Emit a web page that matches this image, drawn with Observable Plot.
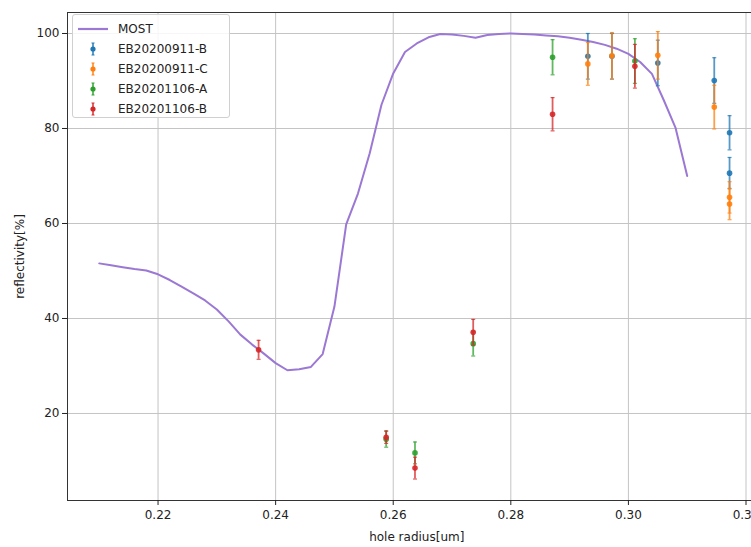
<!DOCTYPE html>
<html><head><meta charset="utf-8">
<script src="https://cdn.jsdelivr.net/npm/d3@7"></script>
<script src="https://cdn.jsdelivr.net/npm/@observablehq/plot@0.6"></script>
<style>
html,body{margin:0;padding:0;background:#fff;overflow:hidden;}
#wrap{position:relative;width:751px;height:547px;overflow:hidden;font-family:"DejaVu Sans",sans-serif;}
#wrap svg{display:block;}
#legend{position:absolute;left:72px;top:14px;width:156px;height:102px;border:1px solid #d0d0d0;border-radius:3px;background:rgba(255,255,255,0.85);font-size:12px;color:#222;}
.lrow{position:absolute;left:0;height:20px;width:156px;}
.lrow span{position:absolute;left:45px;top:3px;line-height:14px;}
.lrow svg{position:absolute;left:0;top:0;}
</style></head><body><div id="wrap"><div id="legend"></div></div>
<script>
// MOST simulation curve
const mostX = [0.210,0.212,0.214,0.216,0.218,0.220,0.222,0.224,0.226,0.228,0.230,0.232,0.234,0.236,0.238,0.240,0.242,0.244,0.246,0.248,0.250,0.252,0.254,0.256,0.258,0.260,0.262,0.264,0.266,0.268,0.270,0.272,0.274,0.276,0.278,0.280,0.282,0.284,0.286,0.288,0.290,0.292,0.294,0.296,0.298,0.300,0.302,0.304,0.306,0.308,0.310];
const mostY = [51.6,51.2,50.8,50.4,50.1,49.3,48.1,46.7,45.3,43.8,41.9,39.4,36.6,34.5,32.6,30.6,29.1,29.3,29.8,32.5,42.5,59.8,66.3,74.8,85.0,91.6,96.1,97.9,99.2,99.9,99.8,99.5,99.1,99.7,99.9,100.0,99.9,99.8,99.6,99.4,99.1,98.7,98.2,97.6,96.8,95.7,94.0,91.5,86.0,80.2,70.0];

// measured series
const seriesNames = ["EB20200911-B","EB20200911-C","EB20201106-A","EB20201106-B"];
const seriesColors = ["#1f77b4","#ff7f0e","#2ca02c","#d62728"];

const b911X = [0.2931,0.2972,0.3050,0.3146,0.3172,0.3172];
const b911Y = [95.2,95.2,93.8,90.1,79.1,70.6];
const b911E = [4.8,4.8,4.8,4.8,3.6,3.3];

const c911X = [0.2931,0.2972,0.3050,0.3146,0.3172,0.3172];
const c911Y = [93.6,95.3,95.4,84.5,65.5,64.1];
const c911E = [4.5,4.9,5.0,4.6,3.3,3.3];

const a1106X = [0.2588,0.2637,0.2736,0.2871,0.3011];
const a1106Y = [14.6,11.7,34.7,95.0,94.2];
const a1106E = [1.7,2.3,2.6,3.7,4.7];

const b1106X = [0.2371,0.2588,0.2637,0.2736,0.2871,0.3011];
const b1106Y = [33.4,15.0,8.5,37.1,83.0,93.1];
const b1106E = [2.0,1.3,2.3,2.7,3.5,4.6];

const xTicks = [0.22,0.24,0.26,0.28,0.30,0.32];
const yTicks = [20,40,60,80,100];

const most = mostX.map((x,i)=>({x, y:mostY[i]}));
const groups = [[b911X,b911Y,b911E],[c911X,c911Y,c911E],[a1106X,a1106Y,a1106E],[b1106X,b1106Y,b1106E]];
const pts = [];
groups.forEach((g,s)=>g[0].forEach((x,i)=>pts.push({s:seriesNames[s], x, y:g[1][i], lo:g[1][i]-g[2][i], hi:g[1][i]+g[2][i]})));

const capSymbol = {draw(ctx, size){ const w = Math.sqrt(size/Math.PI); ctx.moveTo(-w,0); ctx.lineTo(w,0); }};

const colorOpt = {domain: seriesNames, range: seriesColors};

const marks = [
  Plot.gridX(xTicks, {stroke:"#c4c4c4", strokeOpacity:1, strokeWidth:1}),
  Plot.gridY(yTicks, {stroke:"#c4c4c4", strokeOpacity:1, strokeWidth:1}),
  Plot.line(most, {x:"x", y:"y", stroke:"#9b78d3", strokeWidth:2}),
];
seriesNames.forEach(name=>{
  const d = pts.filter(p=>p.s===name);
  marks.push(
    Plot.ruleX(d, {x:"x", y1:"lo", y2:"hi", stroke:"s", strokeWidth:1.8, strokeOpacity:0.75}),
    Plot.dot(d, {x:"x", y:"lo", symbol:capSymbol, r:2, fill:"none", stroke:"s", strokeWidth:1.2, strokeOpacity:0.75}),
    Plot.dot(d, {x:"x", y:"hi", symbol:capSymbol, r:2, fill:"none", stroke:"s", strokeWidth:1.2, strokeOpacity:0.75}),
    Plot.dot(d, {x:"x", y:"y", r:2.8, fill:"s", stroke:"none", fillOpacity:0.9})
  );
});
marks.push(
  Plot.frame({stroke:"#333", strokeWidth:1}),
  Plot.axisX(xTicks, {tickFormat:d3.format(".2f"), tickSize:5, tickPadding:5, fontSize:12, label:"hole radius[um]", labelAnchor:"center", labelArrow:"none", labelOffset:40}),
  Plot.axisY(yTicks, {tickSize:5, tickPadding:3, fontSize:12, label:"reflectivity[%]", labelAnchor:"center", labelArrow:"none", labelOffset:52})
);

const chart = Plot.plot({
  width: 780, height: 547,
  marginLeft: 67, marginRight: 14.5, marginTop: 12, marginBottom: 47,
  style: {fontFamily:"DejaVu Sans", fontSize:"12px", color:"#222", background:"#fff", overflow:"visible", maxWidth:"none"},
  x: {domain:[0.2046,0.3234]},
  y: {domain:[1.68,104.42]},
  color: colorOpt,
  marks
});
chart.style.maxWidth = "none";
chart.style.width = "780px";
chart.style.height = "547px";
const wrap = document.getElementById("wrap");
wrap.insertBefore(chart, wrap.firstChild);

// legend
const legend = document.getElementById("legend");
const entries = [{name:"MOST", color:"#9b78d3", type:"line"}].concat(seriesNames.map((n,i)=>({name:n, color:seriesColors[i], type:"err"})));
entries.forEach((e,i)=>{
  const row = document.createElement("div");
  row.className = "lrow";
  row.style.top = (4 + i*20) + "px";
  let svg;
  if (e.type === "line") {
    svg = `<svg width="40" height="20"><line x1="5" x2="35" y1="10" y2="10" stroke="${e.color}" stroke-width="2.2"/></svg>`;
  } else {
    svg = `<svg width="40" height="20" stroke="${e.color}" stroke-opacity="0.8"><line x1="20" x2="20" y1="4" y2="16" stroke-width="1.8"/><line x1="18.5" x2="21.5" y1="4" y2="4" stroke-width="1.2"/><line x1="18.5" x2="21.5" y1="16" y2="16" stroke-width="1.2"/><circle cx="20" cy="10" r="2.6" fill="${e.color}" stroke="none"/></svg>`;
  }
  row.innerHTML = svg + `<span>${e.name}</span>`;
  legend.appendChild(row);
});
</script>
</body></html>
